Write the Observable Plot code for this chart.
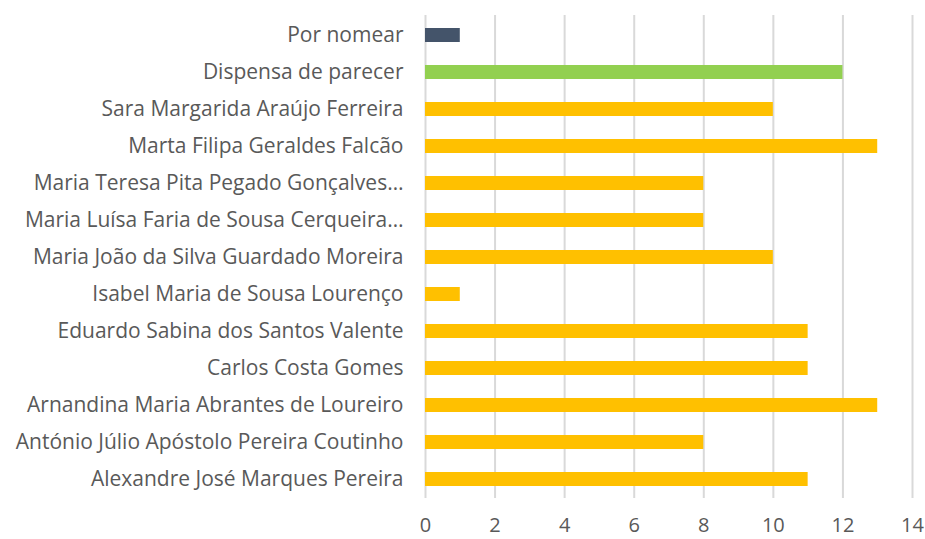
<!DOCTYPE html>
<html>
<head>
<meta charset="utf-8">
<script src="https://cdn.jsdelivr.net/npm/d3@7"></script>
<script src="https://cdn.jsdelivr.net/npm/@observablehq/plot@0.6"></script>
<style>
  html, body { margin: 0; padding: 0; background: #fff; }
  #chart { width: 925px; height: 539px; }
</style>
</head>
<body>
<div id="chart"></div>
<script>
const categories = [
  "Por nomear",
  "Dispensa de parecer",
  "Sara Margarida Araújo Ferreira",
  "Marta Filipa Geraldes Falcão",
  "Maria Teresa Pita Pegado Gonçalves…",
  "Maria Luísa Faria de Sousa Cerqueira…",
  "Maria João da Silva Guardado Moreira",
  "Isabel Maria de Sousa Lourenço",
  "Eduardo Sabina dos Santos Valente",
  "Carlos Costa Gomes",
  "Arnandina Maria Abrantes de Loureiro",
  "António Júlio Apóstolo Pereira Coutinho",
  "Alexandre José Marques Pereira"
];
const values = [1, 12, 10, 13, 8, 8, 10, 1, 11, 11, 13, 8, 11];
const groups = ["Por nomear", "Dispensa", "Relator", "Relator", "Relator", "Relator", "Relator", "Relator", "Relator", "Relator", "Relator", "Relator", "Relator"];
const xTicks = [0, 2, 4, 6, 8, 10, 12, 14];

const data = categories.map((c, i) => ({ name: c, value: values[i], group: groups[i] }));

const chart = Plot.plot({
  width: 925,
  height: 539,
  marginLeft: 425,
  marginRight: 13,
  marginTop: 15,
  marginBottom: 41,
  style: { fontFamily: "'Open Sans', sans-serif", fontSize: "21px", color: "#595959", background: "#fff" },
  x: { domain: [0, 14], ticks: xTicks, label: null, tickSize: 0, tickPadding: 19 },
  y: { domain: categories, label: null, paddingInner: 0.623, paddingOuter: 0.31, tickSize: 0, tickPadding: 22 },
  color: { domain: ["Por nomear", "Dispensa", "Relator"], range: ["#44546A", "#92D050", "#FFC000"] },
  marks: [
    Plot.gridX(xTicks, { stroke: "#D9D9D9", strokeOpacity: 1, strokeWidth: 2 }),
    Plot.barX(data, { x: "value", y: "name", fill: "group" }),
    Plot.axisX({ ticks: xTicks, tickSize: 0, tickPadding: 19, fontSize: 20, fill: "#595959" }),
    Plot.axisY({ tickSize: 0, tickPadding: 22, fontSize: 21, fill: "#595959" })
  ]
});
document.getElementById("chart").appendChild(chart);
</script>
</body>
</html>
